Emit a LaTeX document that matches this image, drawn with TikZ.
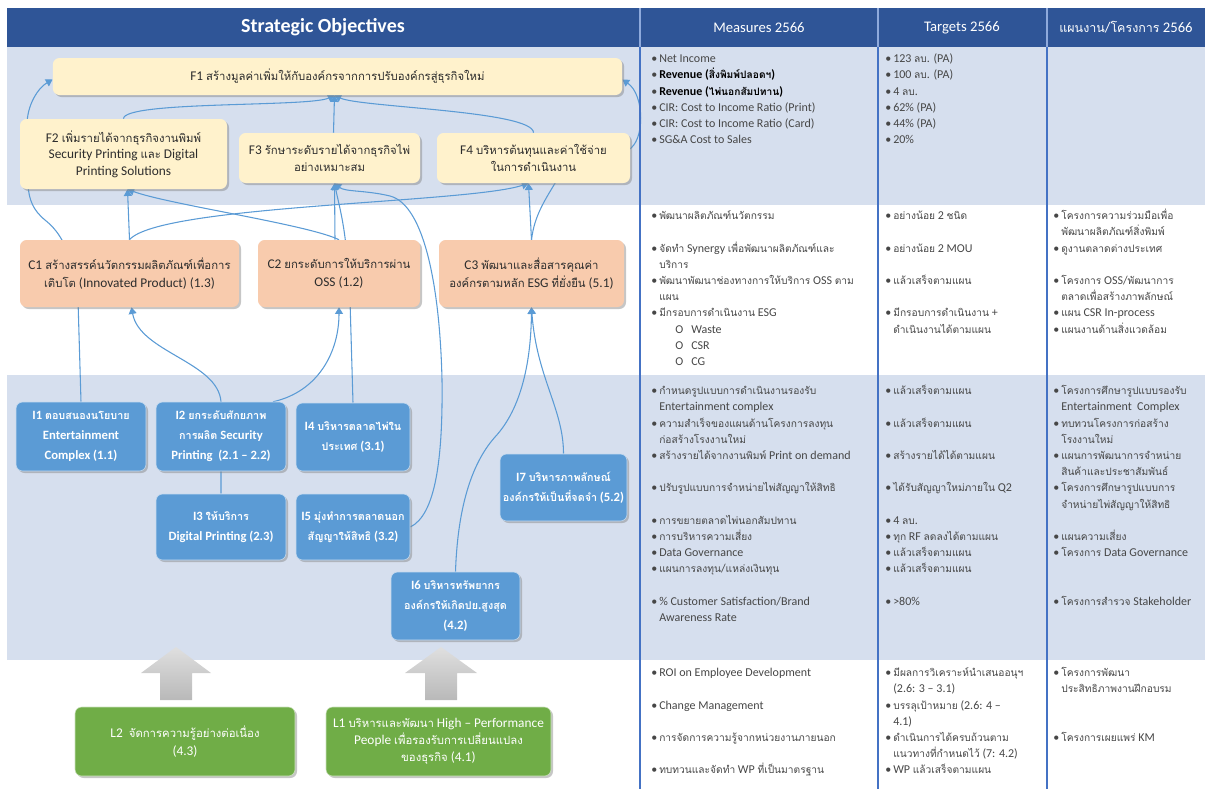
\documentclass[tikz,border=0pt]{standalone}
\usepackage{fontspec}
\setmainfont{Carlito}
\newfontfamily\latfont[Ligatures=TeX]{Carlito}
\newfontfamily\thaifont[Script=Thai,Scale=0.85]{Loma}
\usetikzlibrary{arrows.meta,shadows,calc}

% Thai characters are set in Loma, the rest in Carlito
\XeTeXinterchartokenstate=1
\newXeTeXintercharclass\thaiclass
\newcount\thchar
\thchar="0E00
\loop
  \XeTeXcharclass\thchar=\thaiclass
  \advance\thchar by 1
\ifnum\thchar<"0E80 \repeat
\XeTeXinterchartoks 0 \thaiclass = {\thaifont}
\XeTeXinterchartoks 4095 \thaiclass = {\thaifont}
\XeTeXinterchartoks \thaiclass 0 = {\latfont}
\XeTeXinterchartoks \thaiclass 4095 = {\latfont}

\definecolor{hdrblue}{RGB}{47,85,151}
\definecolor{hdrsep}{RGB}{143,170,220}
\definecolor{bandblue}{RGB}{214,223,238}
\definecolor{colsep}{RGB}{68,114,196}
\definecolor{wireblue}{RGB}{91,155,213}
\definecolor{fyellow}{RGB}{255,242,204}
\definecolor{cpeach}{RGB}{248,203,173}
\definecolor{iblue}{RGB}{91,155,213}
\definecolor{lgreen}{RGB}{112,173,71}
\definecolor{txtdark}{RGB}{45,45,45}
\definecolor{txtgray}{RGB}{70,70,70}

\newcommand{\mbul}{\makebox[6pt][l]{\textbullet}}
\newcommand{\mind}{\hspace*{6pt}}
\newcommand{\msub}{\hspace*{18pt}\makebox[12pt][l]{O}}

\pgfdeclarelayer{bands}
\pgfdeclarelayer{wires}
\pgfsetlayers{bands,wires,main}

\begin{document}
\begin{tikzpicture}[x=0.75pt,y=-0.75pt]
  \tikzstyle{objbox}=[rounded corners=5pt,align=center,inner sep=2pt,
    drop shadow={shadow xshift=1.5pt,shadow yshift=-1.5pt,opacity=0.45}]
  \tikzstyle{finbox}=[objbox,fill=fyellow,text=txtdark,font=\fontsize{10}{12.5}\selectfont]
  \tikzstyle{cusbox}=[objbox,fill=cpeach,text=txtdark,font=\fontsize{10}{13.5}\selectfont]
  \tikzstyle{intbox}=[objbox,fill=iblue,draw=white!65!iblue,text=white,font=\bfseries\fontsize{9.5}{15}\selectfont]
  \tikzstyle{lrnbox}=[objbox,fill=lgreen,draw=white!65!lgreen,text=white,font=\fontsize{10}{13}\selectfont]
  \tikzstyle{wire}=[draw=wireblue,line width=0.8pt,-{Triangle[width=6pt,length=5pt]}]
  \tikzstyle{meas}=[anchor=north west,inner sep=0pt,align=left,text=txtgray,font=\fontsize{9}{12.15}\selectfont]
  \tikzstyle{hdtext}=[text=white,font=\fontsize{11}{13}\selectfont]
  \useasboundingbox (0,0) rectangle (1205,789);

  \begin{pgfonlayer}{bands}
    \fill[bandblue] (7,47) rectangle (1205,205);
    \fill[bandblue] (7,375) rectangle (1205,660);
    \fill[hdrblue] (7,8) rectangle (1205,47);
  \end{pgfonlayer}
  \draw[hdrsep,line width=1pt] (640,8) -- (640,47);
  \draw[hdrsep,line width=1pt] (878,8) -- (878,47);
  \draw[hdrsep,line width=1pt] (1047,8) -- (1047,47);
  \draw[colsep,line width=1.5pt] (640,47) -- (640,789);
  \draw[colsep,line width=1.5pt] (878,47) -- (878,789);
  \draw[colsep,line width=1.5pt] (1047,47) -- (1047,789);

  % header
  \node[hdtext,font=\bfseries\fontsize{15}{18}\selectfont] (hSO) at (323,27.5) {Strategic Objectives};
  \node[hdtext] (hMS) at (759,27.5) {Measures 2566};
  \node[hdtext] (hTG) at (962,27.5) {Targets 2566};
  \node[hdtext] (hPL) at (1126,27.5) {แผนงาน/โครงการ 2566};

  % financial
  \node[finbox,minimum width=427pt,minimum height=27.75pt] (F1) at (337.5,76.5)
    {F1 สร้างมูลค่าเพิ่มให้กับองค์กรจากการปรับองค์กรสู่ธุรกิจใหม่};
  \node[finbox,minimum width=155.25pt,minimum height=52.5pt] (F2) at (123.5,154)
    {F2 เพิ่มรายได้จากธุรกิจงานพิมพ์\\Security Printing และ Digital\\Printing Solutions};
  \node[finbox,minimum width=135.75pt,minimum height=37.5pt] (F3) at (329.5,158)
    {F3 รักษาระดับรายได้จากธุรกิจไพ่\\อย่างเหมาะสม};
  \node[finbox,minimum width=144.75pt,minimum height=37.5pt] (F4) at (533.5,158)
    {F4 บริหารต้นทุนและค่าใช้จ่าย\\ในการดำเนินงาน};

  % customer
  \node[cusbox,minimum width=164.25pt,minimum height=50.25pt] (C1) at (129.5,273.5)
    {C1 สร้างสรรค์นวัตกรรมผลิตภัณฑ์เพื่อการ\\เติบโต (Innovated Product) (1.3)};
  \node[cusbox,minimum width=121.5pt,minimum height=50.25pt] (C2) at (339,273.5)
    {C2 ยกระดับการให้บริการผ่าน\\OSS (1.2)};
  \node[cusbox,minimum width=138.75pt,minimum height=50.25pt] (C3) at (531.5,273.5)
    {C3 พัฒนาและสื่อสารคุณค่า\\องค์กรตามหลัก ESG ที่ยั่งยืน (5.1)};

  % internal process
  \node[intbox,minimum width=97.5pt,minimum height=51.75pt] (I1) at (81,436.5)
    {I1 ตอบสนองนโยบาย\\Entertainment\\Complex (1.1)};
  \node[intbox,minimum width=97.5pt,minimum height=51.75pt] (I2) at (221,436.5)
    {I2 ยกระดับศักยภาพ\\การผลิต Security\\Printing~ (2.1 – 2.2)};
  \node[intbox,minimum width=85.5pt,minimum height=51pt] (I4) at (353,437)
    {I4 บริหารตลาดไพ่ใน\\ประเทศ (3.1)};
  \node[intbox,minimum width=97.5pt,minimum height=49.5pt] (I3) at (221,527)
    {I3 ให้บริการ\\Digital Printing (2.3)};
  \node[intbox,minimum width=85.5pt,minimum height=49.5pt] (I5) at (353,527)
    {I5 มุ่งทำการตลาดนอก\\สัญญาให้สิทธิ (3.2)};
  \node[intbox,minimum width=95.25pt,minimum height=50.25pt] (I7) at (563.5,487.5)
    {I7 บริหารภาพลักษณ์\\องค์กรให้เป็นที่จดจำ (5.2)};
  \node[intbox,minimum width=96.75pt,minimum height=51pt] (I6) at (455.5,606)
    {I6 บริหารทรัพยากร\\องค์กรให้เกิดปย.สูงสุด\\(4.2)};

  % learning
  \node[lrnbox,minimum width=165pt,minimum height=51.75pt] (L2) at (185,741.5)
    {L2~ จัดการความรู้อย่างต่อเนื่อง\\(4.3)};
  \node[lrnbox,minimum width=168.75pt,minimum height=51.75pt] (L1) at (438.5,741.5)
    {L1 บริหารและพัฒนา High – Performance\\People เพื่อรองรับการเปลี่ยนแปลง\\ของธุรกิจ (4.1)};
  \shade[top color=gray!25,bottom color=gray!55] (176,647) -- (211,673) -- (192,673) -- (192,700)
    -- (160,700) -- (160,673) -- (141,673) -- cycle;
  \shade[top color=gray!25,bottom color=gray!55] (441,647) -- (477,673) -- (457,673) -- (457,700)
    -- (425,700) -- (425,673) -- (405,673) -- cycle;

  % links
  \begin{pgfonlayer}{wires}
    \draw[wire] (F2.north) .. controls +(0,-18) and +(-25,12) .. ($(F1.south)+(-3,0)$);
    \draw[wire] ($(F3.north)+(4,0)$) -- ($(F1.south)+(-3,0)$);
    \draw[wire] (F4.north) .. controls +(0,-22) and +(25,12) .. ($(F1.south)+(-3,0)$);
    \draw[wire] (I1.north) -- (78,300) .. controls (72,250) and (60,232) .. (45,220)
      .. controls (33,210) and (29,200) .. (28,185) -- (27,125)
      .. controls (27,105) and (38,88) .. ($(F1.west)+(0,3)$);
    \draw[wire] (C3.north) .. controls +(3,-25) and (545,200) .. (560,175) -- (628,150)
      .. controls (645,142) and (645,95) .. ($(F1.east)+(0,3)$);
    \draw[wire] (C1.north) -- ($(F2.south)+(4,0)$);
    \draw[wire] (C2.north) .. controls +(-30,-15) and +(40,15) .. ($(F2.south)+(4,0)$);
    \draw[wire] ($(C2.north)+(-4,0)$) -- ($(F3.south)+(5,0)$);
    \draw[wire] (C1.north) .. controls +(30,-35) and +(-60,20) .. ($(F4.south)+(-5,0)$);
    \draw[wire] (C3.north) -- ($(F4.south)+(-5,0)$);
    \draw[wire] (I4.north) -- (350,300) .. controls (347,230) and (340,210) .. ($(F3.south)+(5,0)$);
    \draw[wire] (I5.east) .. controls +(25,-12) and (443,460) .. (442,380)
      .. controls (440,290) and (425,205) .. (390,196) .. controls (365,190) and (345,192) .. ($(F3.south)+(5,0)$);
    \draw[wire] (I3.north) -- (I2.north) .. controls +(-3,-40) and +(8,45) .. ($(C1.south)+(2,0)$);
    \draw[wire] ($(I2.north)+(52,0)$) .. controls +(45,-10) and +(0,45) .. (C2.south);
    \draw[wire] (I6.north) .. controls +(2,-60) and (470,465) .. (495,437)
      .. controls (522,408) and (531,360) .. (C3.south);
    \draw[wire] (I7.north) .. controls +(0,-45) and +(5,70) .. (C3.south);
  \end{pgfonlayer}

  % measures, targets, plans
  \node[meas] (mF) at (651,51) {\strut\mbul Net Income\\
    \mbul{\bfseries\color{black}Revenue (สิ่งพิมพ์ปลอดฯ)}\\
    \mbul{\bfseries\color{black}Revenue (ไพ่นอกสัมปทาน)}\\
    \mbul CIR: Cost to Income Ratio (Print)\\
    \mbul CIR: Cost to Income Ratio (Card)\\
    \mbul SG\&A Cost to Sales};
  \node[meas] (tF) at (885,51) {\strut\mbul 123 ลบ. (PA)\\ \mbul 100 ลบ. (PA)\\ \mbul 4 ลบ.\\
    \mbul 62\% (PA)\\ \mbul 44\% (PA)\\ \mbul 20\%};

  \node[meas] (mC) at (651,208) {\strut\mbul พัฒนาผลิตภัณฑ์นวัตกรรม\\ \mbox{}\\
    \mbul จัดทำ Synergy เพื่อพัฒนาผลิตภัณฑ์และ\\ \mind บริการ\\
    \mbul พัฒนาพัฒนาช่องทางการให้บริการ OSS ตาม\\ \mind แผน\\
    \mbul มีกรอบการดำเนินงาน ESG\\ \msub Waste\\ \msub CSR\\ \msub CG};
  \node[meas] (tC) at (885,208) {\strut\mbul อย่างน้อย 2 ชนิด\\ \mbox{}\\ \mbul อย่างน้อย 2 MOU\\ \mbox{}\\
    \mbul แล้วเสร็จตามแผน\\ \mbox{}\\ \mbul มีกรอบการดำเนินงาน +\\ \mind ดำเนินงานได้ตามแผน};
  \node[meas] (pC) at (1053,208) {\strut\mbul โครงการความร่วมมือเพื่อ\\ \mind พัฒนาผลิตภัณฑ์สิ่งพิมพ์\\
    \mbul ดูงานตลาดต่างประเทศ\\ \mbox{}\\ \mbul โครงการ OSS/พัฒนาการ\\ \mind ตลาดเพื่อสร้างภาพลักษณ์\\
    \mbul แผน CSR In-process\\ \mbul แผนงานด้านสิ่งแวดล้อม};

  \node[meas] (mI) at (651,383) {\strut\mbul กำหนดรูปแบบการดำเนินงานรองรับ\\ \mind Entertainment complex\\
    \mbul ความสำเร็จของแผนด้านโครงการลงทุน\\ \mind ก่อสร้างโรงงานใหม่\\
    \mbul สร้างรายได้จากงานพิมพ์ Print on demand\\ \mbox{}\\
    \mbul ปรับรูปแบบการจำหน่ายไพ่สัญญาให้สิทธิ\\ \mbox{}\\
    \mbul การขยายตลาดไพ่นอกสัมปทาน\\ \mbul การบริหารความเสี่ยง\\ \mbul Data Governance\\
    \mbul แผนการลงทุน/แหล่งเงินทุน\\ \mbox{}\\
    \mbul \% Customer Satisfaction/Brand\\ \mind Awareness Rate};
  \node[meas] (tI) at (885,383) {\strut\mbul แล้วเสร็จตามแผน\\ \mbox{}\\ \mbul แล้วเสร็จตามแผน\\ \mbox{}\\
    \mbul สร้างรายได้ได้ตามแผน\\ \mbox{}\\ \mbul ได้รับสัญญาใหม่ภายใน Q2\\ \mbox{}\\
    \mbul 4 ลบ.\\ \mbul ทุก RF ลดลงได้ตามแผน\\ \mbul แล้วเสร็จตามแผน\\ \mbul แล้วเสร็จตามแผน\\ \mbox{}\\
    \mbul >80\%};
  \node[meas] (pI) at (1053,383) {\strut\mbul โครงการศึกษารูปแบบรองรับ\\ \mind Entertainment~ Complex\\
    \mbul ทบทวนโครงการก่อสร้าง\\ \mind โรงงานใหม่\\ \mbul แผนการพัฒนาการจำหน่าย\\
    \mind สินค้าและประชาสัมพันธ์\\ \mbul โครงการศึกษารูปแบบการ\\ \mind จำหน่ายไพ่สัญญาให้สิทธิ\\ \mbox{}\\
    \mbul แผนความเสี่ยง\\ \mbul โครงการ Data Governance\\ \mbox{}\\ \mbox{}\\ \mbul โครงการสำรวจ Stakeholder};

  \node[meas] (mL) at (651,665) {\strut\mbul ROI on Employee Development\\ \mbox{}\\ \mbul Change Management\\ \mbox{}\\
    \mbul การจัดการความรู้จากหน่วยงานภายนอก\\ \mbox{}\\ \mbul ทบทวนและจัดทำ WP ที่เป็นมาตรฐาน};
  \node[meas] (tL) at (885,665) {\strut\mbul มีผลการวิเคราะห์นำเสนออนุฯ\\ \mind (2.6: 3 – 3.1)\\
    \mbul บรรลุเป้าหมาย (2.6: 4 –\\ \mind 4.1)\\ \mbul ดำเนินการได้ครบถ้วนตาม\\
    \mind แนวทางที่กำหนดไว้ (7: 4.2)\\ \mbul WP แล้วเสร็จตามแผน};
  \node[meas] (pL) at (1053,665) {\strut\mbul โครงการพัฒนา\\ \mind ประสิทธิภาพงานฝึกอบรม\\ \mbox{}\\ \mbox{}\\
    \mbul โครงการเผยแพร่ KM};
\end{tikzpicture}
\end{document}
